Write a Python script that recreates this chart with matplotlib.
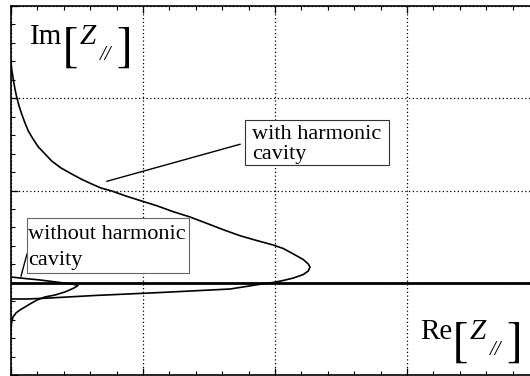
import matplotlib
matplotlib.use("Agg")
import matplotlib.pyplot as plt
from matplotlib.patches import Rectangle
from matplotlib.ticker import MultipleLocator, AutoMinorLocator

plt.rcParams['mathtext.fontset'] = 'stix'
plt.rcParams['font.family'] = ['Liberation Serif', 'DejaVu Serif']

# impedance locus with the harmonic cavity (Re, Im)
with_re = [0.000, 0.005, 0.017, 0.030, 0.043, 0.061, 0.081, 0.106, 0.131, 0.167,
           0.207, 0.258, 0.308, 0.379, 0.460, 0.530, 0.611, 0.682, 0.763, 0.871,
           0.990, 1.104, 1.230, 1.356, 1.483, 1.608, 1.735, 1.861, 1.987, 2.063,
           2.139, 2.214, 2.252, 2.265, 2.252, 2.214, 2.139, 2.061, 1.985, 1.924,
           1.659, 1.129, 0.636, 0.295, 0.129, 0.000]
with_im = [2.393, 2.317, 2.209, 2.100, 2.014, 1.916, 1.829, 1.732, 1.645, 1.558,
           1.472, 1.396, 1.320, 1.244, 1.179, 1.125, 1.071, 1.027, 0.995, 0.940,
           0.886, 0.835, 0.770, 0.713, 0.644, 0.575, 0.510, 0.458, 0.409, 0.371,
           0.312, 0.252, 0.203, 0.171, 0.127, 0.089, 0.051, 0.024, 0.003, -0.008,
           -0.068, -0.106, -0.138, -0.165, -0.176, -0.176]

# impedance locus without the harmonic cavity
without_re = [0.000, 0.106, 0.220, 0.341, 0.462, 0.508, 0.477, 0.409, 0.333, 0.258,
              0.197, 0.144, 0.106, 0.068, 0.038, 0.015, 0.004, 0.000, 0.000]
without_im = [0.062, 0.046, 0.030, 0.008, -0.014, -0.030, -0.057, -0.100, -0.133,
              -0.154, -0.187, -0.230, -0.263, -0.295, -0.328, -0.371, -0.436,
              -0.512, -0.566]

with_lines = ['with harmonic', 'cavity']
without_lines = ['without harmonic', 'cavity']

# one grid division is 132 px wide and 92.25 px tall
PX_X = 1 / 132
PX_Y = 1 / 92.25


def impedance_label(ax, x0, y0, part):
    # part name, big brackets, italic Z with a // subscript
    ax.text(x0, y0, part, fontsize=21, va='baseline', ha='left', zorder=5)
    ax.text(x0 + 31 * PX_X, y0 - 4 * PX_Y, r'$[$', fontsize=35, va='center',
            ha='left', zorder=5)
    ax.text(x0 + 50 * PX_X, y0, 'Z', fontsize=21, style='italic',
            va='baseline', ha='left', zorder=5)
    ax.text(x0 + 70 * PX_X, y0 - 16 * PX_Y, '//', fontsize=15, style='italic',
            va='baseline', ha='left', zorder=5)
    ax.text(x0 + 86 * PX_X, y0 - 4 * PX_Y, r'$]$', fontsize=35, va='center',
            ha='left', zorder=5)


fig = plt.figure(figsize=(5.3, 3.76), dpi=100)
ax = fig.add_axes([11 / 530, 1 / 376, 528 / 530, 369 / 376])
ax.set_xlim(0, 4)
ax.set_ylim(-1, 3)

ax.xaxis.set_major_locator(MultipleLocator(1))
ax.yaxis.set_major_locator(MultipleLocator(1))
ax.xaxis.set_minor_locator(AutoMinorLocator(5))
ax.yaxis.set_minor_locator(AutoMinorLocator(5))
ax.tick_params(which='both', direction='in', top=True, right=True,
               labelbottom=False, labelleft=False, color='black')
ax.tick_params(which='major', length=5, width=0.9)
ax.tick_params(which='minor', length=3, width=0.8)
for sp in ax.spines.values():
    sp.set_linewidth(1.2)

ax.grid(True, which='major', color='black', linestyle=(0, (1, 2)), linewidth=0.9)

# real axis
ax.axhline(0, color='black', linewidth=2.0, zorder=2)

ax.plot(with_re, with_im, color='black', linewidth=1.2, zorder=3)
ax.plot(without_re, without_im, color='black', linewidth=1.2, zorder=3)

# leader lines
ax.plot([0.727, 1.735], [1.100, 1.501], color='black', linewidth=1.0, zorder=3)
ax.plot([0.076, 0.121], [0.073, 0.311], color='black', linewidth=1.0, zorder=3)

# label boxes
ax.add_patch(Rectangle((1.773, 1.274), 1.091, 0.488, facecolor='white',
                       edgecolor='#333333', linewidth=0.8, zorder=4))
ax.add_patch(Rectangle((0.121, 0.106), 1.227, 0.596, facecolor='white',
                       edgecolor='#666666', linewidth=0.8, zorder=4))
for txt, yb in zip(with_lines, [1.556, 1.340]):
    ax.text(1.826, yb, txt, fontsize=16, va='baseline', ha='left', zorder=5)
for txt, yb in zip(without_lines, [0.472, 0.190]):
    ax.text(0.129, yb, txt, fontsize=16, va='baseline', ha='left', zorder=5)

impedance_label(ax, 0.144, 2.588, 'Im')
impedance_label(ax, 3.098, -0.610, 'Re')

fig.savefig('out.png', dpi=100)
